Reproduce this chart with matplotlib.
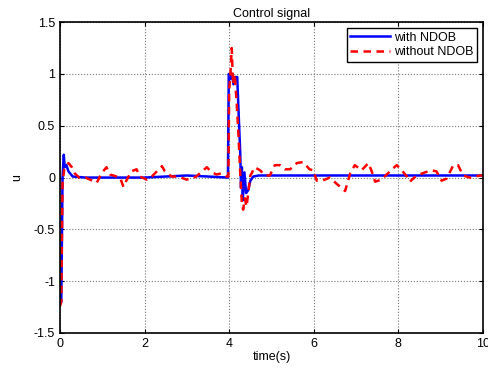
import matplotlib.pyplot as plt
import numpy as np

plt.rcParams['font.family'] = ['Liberation Sans', 'DejaVu Sans']

# with NDOB
t_ndob = [0.0, 0.03, 0.06, 0.09, 0.11, 0.15, 0.2, 0.3, 0.6, 1.0, 1.5, 2.0, 2.5, 3.0,
          3.5, 3.97, 3.99, 4.03, 4.07, 4.1, 4.15, 4.19, 4.22, 4.26, 4.28, 4.3, 4.32,
          4.36, 4.4, 4.45, 4.5, 4.57, 4.7, 5.5, 6.5, 7.5, 8.5, 9.5, 10.0]
u_ndob = [-1.22, -1.2, 0.0, 0.22, 0.1, 0.12, 0.06, 0.01, 0.0, 0.0, 0.0, 0.0, 0.01, 0.02,
          0.01, 0.0, 1.0, 0.95, 1.0, 0.9, 0.97, 0.97, 0.65, 0.25, -0.1, 0.1, -0.22,
          0.05, -0.15, -0.12, -0.03, 0.01, 0.02, 0.02, 0.02, 0.02, 0.02, 0.02, 0.02]

# without NDOB
t_raw = [0.0, 0.03, 0.06, 0.1, 0.2, 0.28, 0.35, 0.45, 0.6, 0.71, 0.87, 0.98, 1.1, 1.18,
         1.42, 1.5, 1.58, 1.69, 1.81, 1.89, 2.05, 2.17, 2.29, 2.41, 2.48, 2.64, 2.8,
         2.99, 3.1, 3.22, 3.39, 3.47, 3.59, 3.7, 3.82, 3.94, 3.98, 4.0, 4.03, 4.06,
         4.09, 4.13, 4.18, 4.22, 4.26, 4.3, 4.33, 4.37, 4.41, 4.45, 4.5, 4.53, 4.6,
         4.73, 4.85, 4.96, 5.08, 5.2, 5.32, 5.44, 5.6, 5.75, 5.9, 5.99, 6.07, 6.2,
         6.38, 6.54, 6.74, 6.86, 6.97, 7.13, 7.29, 7.37, 7.45, 7.6, 7.8, 7.96, 8.08,
         8.2, 8.27, 8.43, 8.63, 8.78, 8.9, 9.02, 9.14, 9.3, 9.41, 9.53, 9.69, 9.93, 10.0]
u_raw = [-1.24, -1.2, -0.05, 0.08, 0.14, 0.1, 0.04, 0.0, 0.0, -0.02, -0.05, 0.04, 0.1, 0.03,
         0.0, -0.09, -0.02, 0.06, 0.08, 0.01, -0.02, 0.01, 0.06, 0.11, 0.06, 0.01, 0.01,
         -0.02, -0.01, 0.01, 0.07, 0.1, 0.05, 0.03, 0.04, 0.01, 0.01, 0.85, 1.0, 1.25,
         0.9, 1.0, 0.7, 0.4, 0.05, -0.25, -0.31, -0.2, -0.28, -0.15, 0.02, 0.04, 0.1,
         0.07, 0.02, 0.02, 0.12, 0.12, 0.08, 0.08, 0.14, 0.15, 0.08, 0.07, -0.03, -0.03,
         0.0, -0.06, -0.13, 0.04, 0.12, 0.07, 0.14, 0.06, -0.04, -0.02, 0.06, 0.12, 0.07,
         0.01, -0.04, 0.02, 0.05, 0.07, 0.06, -0.03, -0.01, 0.12, 0.12, 0.02, 0.0, 0.02, 0.02]

fig = plt.figure(figsize=(4.89, 3.69), dpi=100)
ax = fig.add_axes([0.1227, 0.0976, 0.865, 0.8424])

ax.plot(t_ndob, u_ndob, color='#0000ff', lw=1.8, label='with NDOB')
ax.plot(t_raw, u_raw, color='#ff0000', lw=1.8, ls=(0, (3, 2.2)), label='without NDOB')

ax.set_xlim(0, 10)
ax.set_ylim(-1.5, 1.5)
ax.set_xticks(np.arange(0, 11, 2))
ax.set_yticks(np.arange(-1.5, 1.6, 0.5))
ax.set_yticklabels(['-1.5', '-1', '-0.5', '0', '0.5', '1', '1.5'])
ax.grid(True, ls=':', color='#777777', lw=0.8)
ax.tick_params(direction='in', top=True, right=True, labelsize=9, length=3)
for s in ax.spines.values():
    s.set_linewidth(1.2)

ax.set_title('Control signal', fontsize=9, pad=4)
ax.set_xlabel('time(s)', fontsize=9, labelpad=1)
ax.set_ylabel('u', fontsize=9, labelpad=8)

leg = ax.legend(loc='upper right', fontsize=9, fancybox=False, framealpha=1,
                edgecolor='black', borderaxespad=0.45, handlelength=3.2,
                borderpad=0.3, labelspacing=0.2, handletextpad=0.3)
leg.get_frame().set_linewidth(1.0)

fig.savefig('out.png', dpi=100)
